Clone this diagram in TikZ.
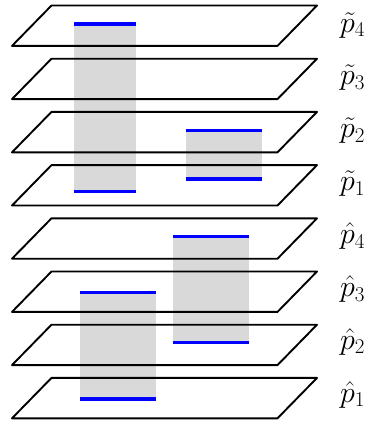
\documentclass[tikz,border=0pt]{standalone}
\usepackage{fix-cm}
\usepackage{amsmath}
\usepackage{tikz}
\tikzset{
    plane/.style = {draw=black, line width=1.9pt, line join=round},
    gap-fill/.style = {fill=black!15},
    gap-edge/.style = {draw=blue, line width=3.5pt},
    plane-label/.style = {anchor=base west, inner sep=0pt, font=\fontsize{30}{34}\selectfont},
}

\begin{document}
\begin{tikzpicture}[x=1pt, y=-1pt]
\useasboundingbox (0,0) rectangle (371,421);
% shaded spans between levels
\fill[gap-fill] (74,24) rectangle (136,191.5);
\fill[gap-fill] (186,130.5) rectangle (262,179);
\fill[gap-fill] (173,236.5) rectangle (249,342.5);
\fill[gap-fill] (80,292.5) rectangle (156,399);
% the eight levels
\foreach \k in {0,...,7} {
    \pgfmathsetmacro{\t}{5.5+53.2*\k}
    \draw[plane] (51.5,\t) -- (317,\t) -- (277.5,\t+40.4) -- (12,\t+40.4) -- cycle;
}
% ends of the spans
\draw[gap-edge] (74,24) -- (136,24);
\draw[gap-edge] (74,191.5) -- (136,191.5);
\draw[gap-edge] (186,130.5) -- (262,130.5);
\draw[gap-edge] (186,179) -- (262,179);
\draw[gap-edge] (173,236.5) -- (249,236.5);
\draw[gap-edge] (173,342.5) -- (249,342.5);
\draw[gap-edge] (80,292.5) -- (156,292.5);
\draw[gap-edge] (80,399) -- (156,399);
% level names
\foreach \k/\name in {0/{\tilde{p}_4}, 1/{\tilde{p}_3}, 2/{\tilde{p}_2}, 3/{\tilde{p}_1},
                      4/{\hat{p}_4}, 5/{\hat{p}_3}, 6/{\hat{p}_2}, 7/{\hat{p}_1}} {
    \node[plane-label] (level-\k) at (340, 32+52.9*\k) {$\name$};
}
\end{tikzpicture}
\end{document}
